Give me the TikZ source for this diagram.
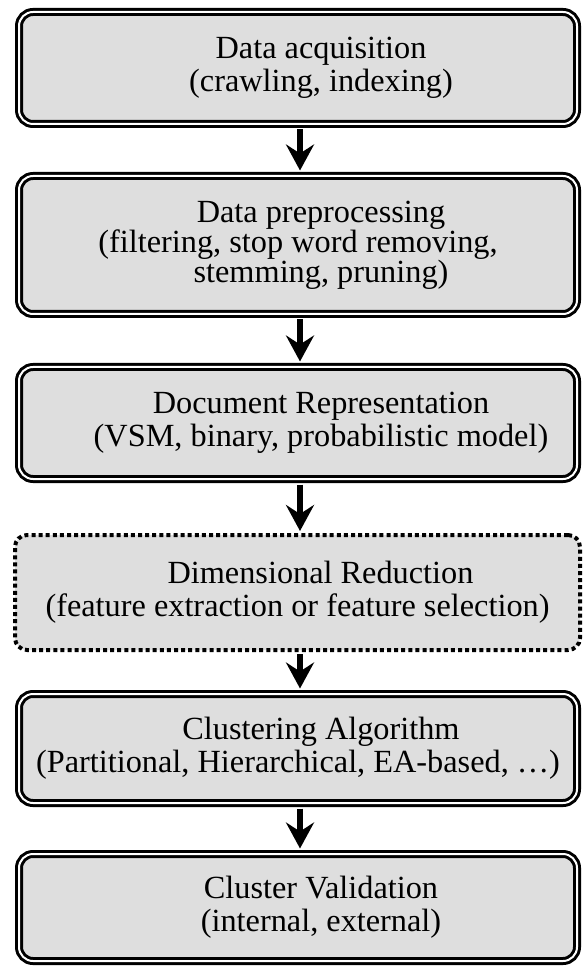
\documentclass[tikz,border=0pt]{standalone}
\usepackage{fontspec}
\setmainfont{Liberation Serif}
\usetikzlibrary{arrows.meta}
\definecolor{boxgray}{RGB}{222,222,222}
% lines of the narrower captions sit a little right of the box centre
\newcommand\lineshift{\hspace*{23pt}}

\begin{document}
\begin{tikzpicture}[x=0.5pt,y=-0.5pt,
  boxtext/.style={align=center, inner sep=0pt,
    font=\fontsize{16.15pt}{16.5pt}\selectfont},
  stage/.style={boxtext, draw=black, fill=boxgray, line width=1.5pt,
    double=white, double distance=1pt, rounded corners=7pt,
    minimum width=279pt},
  optstage/.style={boxtext, draw=black, fill=boxgray, line width=2pt,
    dash pattern=on 2pt off 1.55pt, rounded corners=6pt,
    minimum width=282.5pt},
  flow/.style={line width=2.6pt,
    -{Stealth[length=13pt,width=14pt,inset=4.5pt]}}
]
\useasboundingbox (0,0) rectangle (583,967);

\node[stage, minimum height=56pt] (acq) at (298,68)
  {\lineshift Data acquisition\\ \lineshift(crawling, indexing)};
\node[stage, minimum height=69pt, font=\fontsize{16.15pt}{15pt}\selectfont] (pre) at (298,245)
  {\lineshift Data preprocessing\\(filtering, stop word removing,\\ \lineshift stemming, pruning)};
\node[stage, minimum height=56pt] (rep) at (298,423)
  {\lineshift Document Representation\\ \lineshift(VSM, binary, probabilistic model)};
\node[optstage, minimum height=57.5pt] (dim) at (297.5,592.5)
  {\lineshift Dimensional Reduction\\(feature extraction or feature selection)};
\node[stage, minimum height=54.5pt] (clu) at (298,748.5)
  {\lineshift Clustering Algorithm\\(Partitional, Hierarchical, EA-based, …)};
\node[stage, minimum height=53.5pt] (val) at (298,907.5)
  {\lineshift Cluster Validation\\ \lineshift(internal, external)};

\draw[flow, shorten <=2pt, shorten >=2pt] ([xshift=1pt]acq.south) -- ([xshift=1pt]pre.north);
\draw[flow, shorten <=2pt, shorten >=2pt] ([xshift=1pt]pre.south) -- ([xshift=1pt]rep.north);
\draw[flow, shorten <=2pt, shorten >=1pt] ([xshift=1pt]rep.south) -- ([xshift=1.25pt]dim.north);
\draw[flow, shorten <=1pt, shorten >=2pt] ([xshift=1.25pt]dim.south) -- ([xshift=1pt]clu.north);
\draw[flow, shorten <=2pt, shorten >=2pt] ([xshift=1pt]clu.south) -- ([xshift=1pt]val.north);
\end{tikzpicture}
\end{document}
